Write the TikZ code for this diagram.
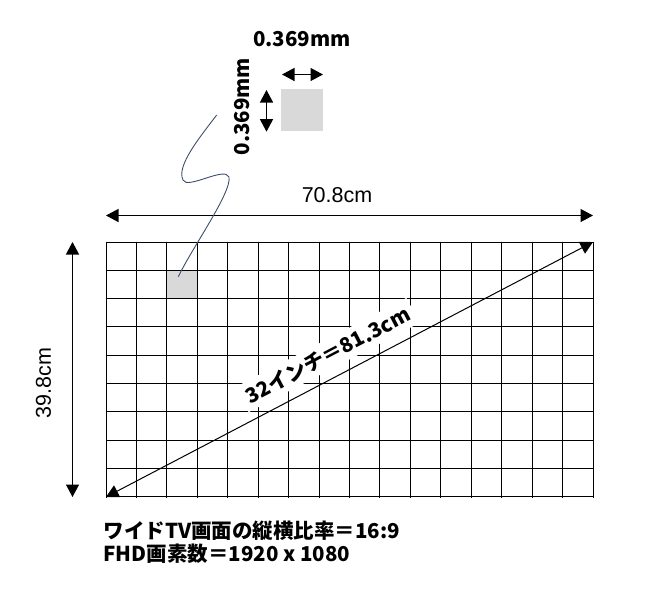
\documentclass[tikz,border=0pt]{standalone}
\usepackage{fontspec}
\setmainfont{Liberation Sans}
\newfontfamily\jp{Noto Sans CJK JP}
\usetikzlibrary{arrows.meta}
\definecolor{pixgray}{HTML}{D9D9D9}
\definecolor{callout}{RGB}{60,78,108}
\begin{document}
\begin{tikzpicture}[x=1pt,y=-1pt,
  dimline/.style={line width=1.3pt,{Triangle[length=12.5pt,width=13pt]}-{Triangle[length=12.5pt,width=13pt]}},
  diagline/.style={line width=1pt,{Triangle[length=12.5pt,width=13pt]}-{Triangle[length=12.5pt,width=13pt]}},
  gridline/.style={line width=1.1pt},
  lab/.style={inner sep=0pt,font=\fontsize{21.5}{24}\selectfont},
  jlab/.style={font=\jp\bfseries\fontsize{20.5}{22}\selectfont},
  pixbox/.style={fill=pixgray,draw=none,inner sep=0pt}]
\useasboundingbox (0,0) rectangle (656,603);
% highlighted cell
\fill[pixgray] (166.94,270.33) rectangle (197.38,298.67);
% screen frame (named for the connectors)
\node[draw=none,minimum width=487pt,minimum height=255pt,inner sep=0pt,outer sep=0pt,anchor=north west] (screen) at (106,242) {};
% grid, snapped to the pixel grid
\foreach \i in {0,...,16}{
  \pgfmathsetmacro\xx{floor(106+\i*30.4375)+0.5}
  \draw[gridline] (\xx,241.5) -- (\xx,497.5);
}
\foreach \j in {0,...,9}{
  \pgfmathsetmacro\yy{floor(242+\j*28.3333)+0.5}
  \draw[gridline] (106,\yy) -- (593.5,\yy);
}
% diagonal label
\node[jlab,fill=white,inner sep=5pt,rotate=27.6] (diaglab) at (327.5,355) {32インチ＝81.3cm};
\draw[diagline] (screen.south west) -- (screen.north east);
% dimension arrows
\coordinate (topL) at (106,215.5);
\coordinate (topR) at (593,215.5);
\draw[dimline] (topL) -- (topR);
\coordinate (leftT) at (72.5,242);
\coordinate (leftB) at (72.5,497);
\draw[dimline] (leftT) -- (leftB);
\node[lab] (wlab) at (337,195.5) {70.8cm};
\node[lab,rotate=90] (hlab) at (43.5,383) {39.8cm};
% enlarged pixel
\node[pixbox,minimum width=42pt,minimum height=42pt] (pix) at (302,110) {};
\coordinate (pxL) at (282,74.5);
\coordinate (pxR) at (323,74.5);
\draw[dimline] (pxL) -- (pxR);
\coordinate (pyT) at (266.5,90);
\coordinate (pyB) at (266.5,131.7);
\draw[dimline] (pyT) -- (pyB);
\node[jlab,inner sep=0pt] (pxlab) at (302,39.5) {0.369mm};
\node[jlab,inner sep=0pt,rotate=90] (pylab) at (241.7,106.7) {0.369mm};
% callout curve
\coordinate (cStart) at (216.7,115);
\coordinate (cEnd) at (178.3,276.7);
\draw[callout,line width=0.9pt] (cStart) .. controls (200,137) and (176,166) .. (183,180)
  .. controls (187,190) and (225,166) .. (229,177)
  .. controls (232,192) and (192,248) .. (cEnd);
% notes
\node[jlab,inner sep=0pt,anchor=west] (note1) at (103.3,531) {ワイドTV画面の縦横比率＝16:9};
\node[jlab,inner sep=0pt,anchor=west] (note2) at (103.3,554) {FHD画素数＝1920 x 1080};
\end{tikzpicture}
\end{document}
